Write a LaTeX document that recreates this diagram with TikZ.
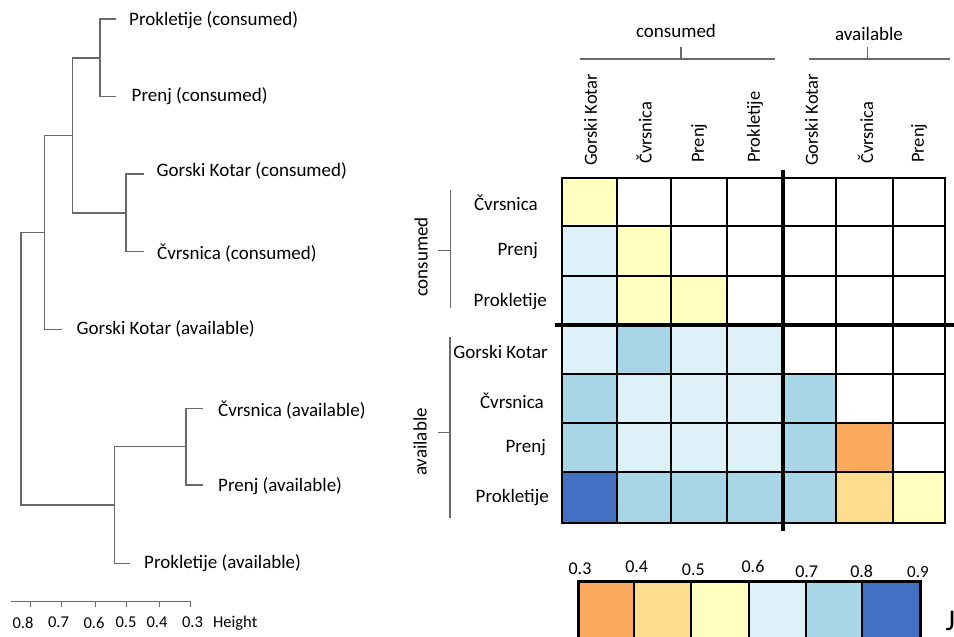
\documentclass[tikz,border=0pt]{standalone}
\usepackage{fontspec}
\setmainfont{Carlito}
\definecolor{cO}{RGB}{251,170,94}
\definecolor{cLO}{RGB}{254,222,142}
\definecolor{cY}{RGB}{255,255,192}
\definecolor{cLB}{RGB}{223,241,248}
\definecolor{cMB}{RGB}{169,214,231}
\definecolor{cDB}{RGB}{68,112,196}
\definecolor{cW}{RGB}{255,255,255}
\definecolor{dgray}{RGB}{105,105,105}
\begin{document}
\begin{tikzpicture}[x=1pt,y=-1pt,
  dline/.style={draw=dgray,line width=1.3pt},
  leaf/.style={anchor=west,inner sep=0pt,font=\fontsize{19}{21}\selectfont},
  rlab/.style={anchor=east,inner sep=0pt,font=\fontsize{19}{21}\selectfont},
  clab/.style={anchor=west,rotate=90,inner sep=0pt,font=\fontsize{18.5}{20}\selectfont},
  glab/.style={inner sep=0pt,font=\fontsize{19}{21}\selectfont},
  axlab/.style={inner sep=0pt,font=\fontsize{16.5}{18}\selectfont},
  barlab/.style={inner sep=0pt,font=\fontsize{18}{20}\selectfont},
  gridline/.style={draw=black,line width=2pt},
  thickline/.style={draw=black,line width=3.6pt}]
\useasboundingbox (0,0) rectangle (954,637);
\fill[white] (0,0) rectangle (954,637);

% ---------- dendrogram ----------
\coordinate (t1) at (116,19);
\coordinate (t2) at (116,96.7);
\coordinate (t3) at (144,174);
\coordinate (t4) at (144,251.7);
\coordinate (t5) at (61.7,329.3);
\coordinate (t6) at (202.7,408.3);
\coordinate (t7) at (202.7,485);
\coordinate (t8) at (130,563.3);
\coordinate (m1) at (100,57.85);
\coordinate (m2) at (126,212.85);
\coordinate (m3) at (72.7,135.35);
\coordinate (m4) at (44.3,232.3);
\coordinate (m5) at (186,446.65);
\coordinate (m6) at (114.3,504.98);
\coordinate (m7) at (21,368.64);

\draw[dline] (t1) -| (m1); \draw[dline] (t2) -| (m1);
\draw[dline] (t3) -| (m2); \draw[dline] (t4) -| (m2);
\draw[dline] (m1) -| (m3); \draw[dline] (m2) -| (m3);
\draw[dline] (m3) -| (m4); \draw[dline] (t5) -| (m4);
\draw[dline] (t6) -| (m5); \draw[dline] (t7) -| (m5);
\draw[dline] (m5) -| (m6); \draw[dline] (t8) -| (m6);
\draw[dline] (m4) -| (m7); \draw[dline] (m6) -| (m7);

\node[leaf] (l1) at (129,20.5) {Prokletije (consumed)};
\node[leaf] (l2) at (131.5,95.7) {Prenj (consumed)};
\node[leaf] (l3) at (156.5,170.5) {Gorski Kotar (consumed)};
\node[leaf] (l4) at (157,253) {Čvrsnica (consumed)};
\node[leaf] (l5) at (76.5,329) {Gorski Kotar (available)};
\node[leaf] (l6) at (218,410.5) {Čvrsnica (available)};
\node[leaf] (l7) at (218,485.7) {Prenj (available)};
\node[leaf] (l8) at (144,562.7) {Prokletije (available)};

% axis
\coordinate (ax0) at (11,601.7);
\coordinate (ax1) at (190.7,601.7);
\draw[dline,line width=1pt] (ax0) -- (ax1);
\foreach \x in {30,61.7,95,126.7,159,190.7}
  \draw[dline,line width=1pt] (\x,601.7) -- (\x,606.5);
\node[axlab] (a8) at (23,622.7) {0.8};
\node[axlab] (a7) at (58.5,622.7) {0.7};
\node[axlab] (a6) at (94,622.7) {0.6};
\node[axlab] (a5) at (126,622.7) {0.5};
\node[axlab] (a4) at (157,622.7) {0.4};
\node[axlab] (a3) at (192.5,622.7) {0.3};
\node[axlab,anchor=west] (ah) at (213,622.7) {Height};

% ---------- heatmap ----------
\def\xs{{562,617,671,727,783,836,893,945}}
\def\ys{{178,226,276,325,374,423,472,523}}
\foreach \row [count=\i from 0] in {{Y,W,W,W,W,W,W},{LB,Y,W,W,W,W,W},{LB,Y,Y,W,W,W,W},{LB,MB,LB,LB,W,W,W},{MB,LB,LB,LB,MB,W,W},{MB,LB,LB,LB,MB,O,W},{DB,MB,MB,MB,MB,LO,Y}}{
  \foreach \col [count=\j from 0] in \row {
    \pgfmathsetmacro\xa{\xs[\j]}
    \pgfmathsetmacro\xb{\xs[\j+1]}
    \pgfmathsetmacro\ya{\ys[\i]}
    \pgfmathsetmacro\yb{\ys[\i+1]}
    \fill[c\col] (\xa,\ya) rectangle (\xb,\yb);
  }
}
\foreach \k in {0,...,7}{
  \pgfmathsetmacro\xx{\xs[\k]}
  \draw[gridline] (\xx,178) -- (\xx,523);
  \pgfmathsetmacro\yy{\ys[\k]}
  \draw[gridline] (562,\yy) -- (945,\yy);
}
\draw[gridline,line cap=rect] (562,178) rectangle (945,523);
\coordinate (vh0) at (783,170);
\coordinate (vh1) at (783,531);
\coordinate (hh0) at (555,325);
\coordinate (hh1) at (954,325);
\draw[thickline] (vh0) -- (vh1);
\draw[thickline] (hh0) -- (hh1);

% row labels
\node[rlab] (r1) at (538,203) {Čvrsnica};
\node[rlab] (r2) at (538,250.5) {Prenj};
\node[rlab] (r3) at (547,302) {Prokletije};
\node[rlab] (r4) at (548,351.5) {Gorski Kotar};
\node[rlab] (r5) at (544,401) {Čvrsnica};
\node[rlab] (r6) at (546,448) {Prenj};
\node[rlab] (r7) at (549,498) {Prokletije};

% column labels
\node[clab] (k1) at (590.5,166) {Gorski Kotar};
\node[clab] (k2) at (644,164) {Čvrsnica};
\node[clab] (k3) at (699,163) {Prenj};
\node[clab] (k4) at (755,163) {Prokletije};
\node[clab] (k5) at (811.5,166) {Gorski Kotar};
\node[clab] (k6) at (865.5,164) {Čvrsnica};
\node[clab] (k7) at (919,163) {Prenj};

% group brackets (left)
\coordinate (bc0) at (450.7,190);
\coordinate (bc1) at (450.7,308);
\coordinate (bct0) at (438,250.7);
\coordinate (bct1) at (450.7,250.7);
\draw[dline] (bc0) -- (bc1);
\draw[dline] (bct0) -- (bct1);
\node[glab,rotate=90] (gc) at (421,257) {consumed};
\coordinate (ba0) at (450,337);
\coordinate (ba1) at (450,518);
\coordinate (bat0) at (438,432.3);
\coordinate (bat1) at (450,432.3);
\draw[dline] (ba0) -- (ba1);
\draw[dline] (bat0) -- (bat1);
\node[glab,rotate=90] (ga) at (420,442) {available};

% group brackets (top)
\coordinate (tc0) at (580,59);
\coordinate (tc1) at (775,59);
\coordinate (tct0) at (681,47);
\coordinate (tct1) at (681,59);
\draw[dline] (tc0) -- (tc1);
\draw[dline] (tct0) -- (tct1);
\node[glab] (gtc) at (676,31) {consumed};
\coordinate (ta0) at (809,59);
\coordinate (ta1) at (950,59);
\coordinate (tat0) at (867.5,47);
\coordinate (tat1) at (867.5,59);
\draw[dline] (ta0) -- (ta1);
\draw[dline] (tat0) -- (tat1);
\node[glab] (gta) at (869,34) {available};

% ---------- colour bar ----------
\def\bs{{578.3,634.3,691,749,805.7,862.3,920.5}}
\foreach \col [count=\j from 0] in {O,LO,Y,LB,MB,DB}{
  \pgfmathsetmacro\xa{\bs[\j]}
  \pgfmathsetmacro\xb{\bs[\j+1]}
  \fill[c\col] (\xa,581.7) rectangle (\xb,650);
}
\foreach \k in {1,...,5}{
  \pgfmathsetmacro\xx{\bs[\k]}
  \draw[draw=black,line width=1.8pt] (\xx,581.7) -- (\xx,650);
}
\draw[draw=black,line width=3pt] (578.3,650) -- (578.3,581.7) -- (920.5,581.7) -- (920.5,650);
\node[barlab] (b3) at (580,568.5) {0.3};
\node[barlab] (b4) at (636.7,567) {0.4};
\node[barlab] (b5) at (693.3,569.5) {0.5};
\node[barlab] (b6) at (753,566) {0.6};
\node[barlab] (b7) at (806.7,571.5) {0.7};
\node[barlab] (b8) at (861.7,571) {0.8};
\node[barlab,font=\fontsize{17}{19}\selectfont] (b9) at (918,572.3) {0.9};
\node[anchor=base west,inner sep=0pt,font=\fontsize{30}{32}\selectfont] (jj) at (945.5,630) {J};
\end{tikzpicture}
\end{document}
